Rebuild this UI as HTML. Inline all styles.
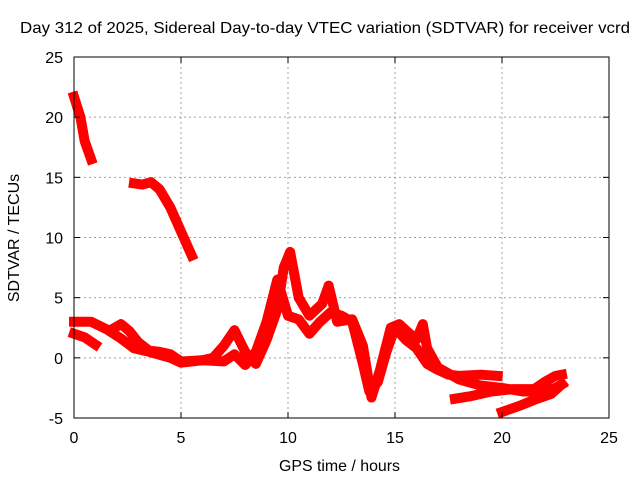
<!DOCTYPE html>
<html><head><meta charset="utf-8"><style>
body{margin:0;background:#fff;}
svg{display:block;font-family:"Liberation Sans",sans-serif;}
</style></head><body>
<svg id="chart" width="640" height="480" viewBox="0 0 640 480">
<text x="20" y="33" font-size="16" textLength="610" lengthAdjust="spacingAndGlyphs">Day 312 of 2025, Sidereal Day-to-day VTEC variation (SDTVAR) for receiver vcrd</text>
<text x="279" y="471" font-size="16" textLength="121" lengthAdjust="spacingAndGlyphs">GPS time / hours</text>
<text x="19" y="238" font-size="16" text-anchor="middle" transform="rotate(-90 19 238)">SDTVAR / TECUs</text>
<g id="grid"></g><g id="series"></g><g id="axes"></g>
</svg>
<script>
const xTicks=[0,5,10,15,20,25];
const yTicks=[-5,0,5,10,15,20,25];
const seriesA=[[0,3],[0.8,3],[1.5,2.4],[2.2,1.6],[2.8,0.8],[3.5,0.5],[4.5,0],[5,-0.4],[6,-0.2],[7,-0.3],[7.5,0.3],[8,-0.6],[8.5,0.5],[9,3],[9.5,6.5],[10,3.5],[10.5,3.2],[11,2],[11.5,3],[12,3.8],[12.5,3.5],[13,3],[13.5,-0.5],[13.8,-2.8],[14.2,-2],[14.6,0.5],[15,2.5],[15.5,1.5],[16,0.8],[16.5,-0.5],[17,-1],[17.5,-1.4],[18,-1.5],[19,-1.4],[19.8,-1.5]];
const seriesB=[[0,2],[0.5,1.7],[1,1.1]];
const seriesC=[[1.8,2.4],[2.2,2.8],[2.6,2.2],[3,1.3],[3.5,0.6],[4,0.5],[4.5,0.3],[5,-0.3],[6,-0.2],[6.5,0],[7,1],[7.5,2.3],[8,0.5],[8.5,-0.5],[9,1.5],[9.5,4],[9.8,7.5],[10.1,8.8],[10.5,5],[11,3.5],[11.6,4.5],[11.9,6],[12.3,3],[13,3.2],[13.5,1],[13.9,-3.3],[14.3,-1],[14.8,2.5],[15.2,2.8],[16,1.5],[16.3,2.8],[16.5,0.8],[17,-0.8],[17.5,-1.3],[18,-1.8],[19,-2.3],[20,-2.5],[21,-2.8],[22,-2.8],[22.5,-2.5],[22.8,-2.2]];
const seriesD=[[17.8,-3.4],[18.5,-3.2],[19.5,-2.8],[20.5,-2.6],[21.5,-2.6],[22,-2],[22.5,-1.5],[22.8,-1.4]];
const seriesE=[[20,-4.5],[20.8,-4],[21.5,-3.5],[22.3,-3],[22.8,-2.2]];
const seriesF=[[0,21.7],[0.3,20],[0.5,18],[0.8,16.5]];
const seriesG=[[2.8,14.5],[3.2,14.4],[3.6,14.6],[4,14],[4.5,12.5],[5,10.5],[5.5,8.5]];
const X0=74,X1=609,Y0=418,Y1=57;
const xs=v=>X0+(v-0)/25*(X1-X0);
const ys=v=>Y0-(v+5)/30*(Y0-Y1);
const NS="http://www.w3.org/2000/svg";
function mk(t,a,p){const e=document.createElementNS(NS,t);for(const k in a)e.setAttribute(k,a[k]);p.appendChild(e);return e;}
const grid=document.getElementById('grid'),axes=document.getElementById('axes'),ser=document.getElementById('series');
xTicks.forEach(t=>{
 if(t>0&&t<25){const l=mk('line',{x1:xs(t),x2:xs(t),y1:Y1,y2:Y0,stroke:'#a0a0a0','stroke-dasharray':'2,3'},grid);
 
 }
 const tx=mk('text',{x:xs(t),y:Y0+25,'font-size':16,'text-anchor':'middle'},axes);tx.textContent=t;
 
 
 mk('line',{x1:xs(t),x2:xs(t),y1:Y0,y2:Y0-6,stroke:'#000'},axes);
 mk('line',{x1:xs(t),x2:xs(t),y1:Y1,y2:Y1+6,stroke:'#000'},axes);
});
yTicks.forEach(t=>{
 if(t>-5&&t<25){const l=mk('line',{x1:X0,x2:X1,y1:ys(t),y2:ys(t),stroke:'#a0a0a0','stroke-dasharray':'2,3'},grid);
 
 }
 const tx=mk('text',{x:X0-11,y:ys(t)+6,'font-size':16,'text-anchor':'end'},axes);tx.textContent=t;
 
 
 mk('line',{x1:X0,x2:X0+6,y1:ys(t),y2:ys(t),stroke:'#000'},axes);
 mk('line',{x1:X1,x2:X1-6,y1:ys(t),y2:ys(t),stroke:'#000'},axes);
});
const frame=mk('rect',{x:X0,y:Y1,width:X1-X0,height:Y0-Y1,fill:'none',stroke:'#000'},axes);


[seriesA,seriesB,seriesC,seriesD,seriesE,seriesF,seriesG].forEach((s,i)=>{
 const p=mk('polyline',{points:s.map(d=>xs(d[0])+','+ys(d[1])).join(' '),fill:'none',stroke:'#ff0000','stroke-width':10,'stroke-linejoin':'round','stroke-linecap':'square'},ser);
 
 
});
</script>
</body></html>
